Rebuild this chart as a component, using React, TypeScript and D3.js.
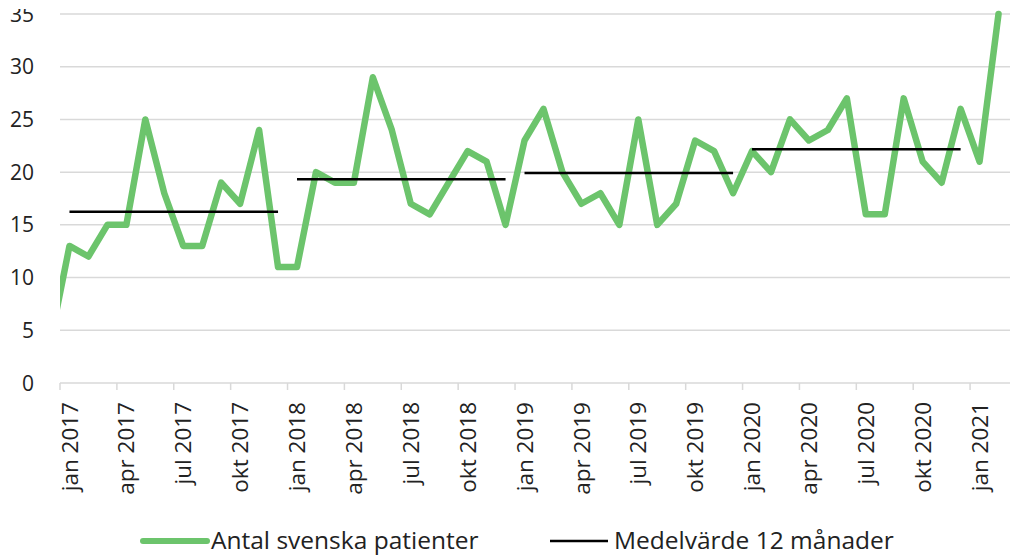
import React, { useEffect, useRef } from 'react'
import * as d3 from 'd3'

const WIDTH = 1010
const HEIGHT = 556

const MARGIN = { left: 60, right: 2, top: 14, bottom: 173 }

const GREEN = '#6cc46c'
const GRID = '#d9d9d9'
const FONT = '"Open Sans", Lato, sans-serif'

const MONTHS = ['jan', 'feb', 'mar', 'apr', 'maj', 'jun', 'jul', 'aug', 'sep', 'okt', 'nov', 'dec']
const YEARS = [2017, 2018, 2019, 2020, 2021]

// month before the axis starts, only the clipped tail of the line shows
const PREV_VALUE = 4

const patients2017 = [13, 12, 15, 15, 25, 18, 13, 13, 19, 17, 24, 11]
const patients2018 = [11, 20, 19, 19, 29, 24, 17, 16, 19, 22, 21, 15]
const patients2019 = [23, 26, 20, 17, 18, 15, 25, 15, 17, 23, 22, 18]
const patients2020 = [22, 20, 25, 23, 24, 27, 16, 16, 27, 21, 19, 26]
const patients2021 = [21, 35]

const yearMeans = [16.25, 19.33, 19.92, 22.17]

const Y_TICKS = [0, 5, 10, 15, 20, 25, 30, 35]

const LEGEND = ['Antal svenska patienter', 'Medelvärde 12 månader']

export default function App() {
  const ref = useRef<SVGSVGElement>(null)

  useEffect(() => {
    const values = [...patients2017, ...patients2018, ...patients2019, ...patients2020, ...patients2021]
    const labels = values.map((_, i) => `${MONTHS[i % 12]} ${YEARS[Math.floor(i / 12)]}`)

    const innerW = WIDTH - MARGIN.left - MARGIN.right
    const innerH = HEIGHT - MARGIN.top - MARGIN.bottom

    const x = d3.scaleBand().domain(labels).range([0, innerW])
    const y = d3.scaleLinear().domain([0, 35]).range([innerH, 0])
    const cx = (i: number) => x.step() * (i + 0.5)

    const svg = d3.select(ref.current)
    svg.selectAll('*').remove()

    svg.append('defs').append('clipPath').attr('id', 'plot-clip')
      .append('rect')
      .attr('x', 0).attr('y', -10)
      .attr('width', innerW).attr('height', innerH + 10)

    const g = svg.append('g').attr('transform', `translate(${MARGIN.left},${MARGIN.top})`)

    // gridlines
    g.append('g').selectAll('line')
      .data(Y_TICKS.filter((t) => t > 0))
      .enter().append('line')
      .attr('x1', 0).attr('x2', innerW + 10)
      .attr('y1', (d) => y(d)).attr('y2', (d) => y(d))
      .attr('stroke', GRID).attr('stroke-width', 1.5)

    // y labels
    g.append('g').selectAll('text')
      .data(Y_TICKS)
      .enter().append('text')
      .attr('x', -26).attr('y', (d) => y(d))
      .attr('dy', '0.36em')
      .attr('text-anchor', 'end')
      .attr('font-family', FONT).attr('font-size', 21).attr('fill', '#222')
      .text((d) => d)

    // x axis
    g.append('line')
      .attr('x1', 0).attr('x2', innerW + 10)
      .attr('y1', innerH).attr('y2', innerH)
      .attr('stroke', GRID).attr('stroke-width', 1.5)

    const tickIdx = labels.map((_, i) => i).filter((i) => i % 3 === 0)

    g.append('g').selectAll('line')
      .data(tickIdx)
      .enter().append('line')
      .attr('x1', (i) => x(labels[i])!).attr('x2', (i) => x(labels[i])!)
      .attr('y1', innerH).attr('y2', innerH + 7)
      .attr('stroke', GRID).attr('stroke-width', 1.5)

    g.append('g').selectAll('text')
      .data(tickIdx)
      .enter().append('text')
      .attr('transform', (i) => `translate(${cx(i)},${innerH + 19}) rotate(-90)`)
      .attr('dy', '0.36em')
      .attr('text-anchor', 'end')
      .attr('font-family', FONT).attr('font-size', 22.5).attr('fill', '#222')
      .text((i) => labels[i])

    // patient line
    const line = d3.line<number>()
      .x((d, i) => cx(i - 1))
      .y((d) => y(d))

    g.append('path')
      .datum([PREV_VALUE, ...values])
      .attr('d', line)
      .attr('clip-path', 'url(#plot-clip)')
      .attr('fill', 'none')
      .attr('stroke', GREEN)
      .attr('stroke-width', 6.5)
      .attr('stroke-linejoin', 'round')
      .attr('stroke-linecap', 'round')

    // yearly means
    g.append('g').selectAll('line')
      .data(yearMeans)
      .enter().append('line')
      .attr('x1', (d, k) => cx(k * 12)).attr('x2', (d, k) => cx(k * 12 + 11))
      .attr('y1', (d) => y(d)).attr('y2', (d) => y(d))
      .attr('stroke', '#000').attr('stroke-width', 2.5)

    // the source picture is cut off at the top
    svg.append('rect')
      .attr('x', 0).attr('y', 0).attr('width', WIDTH).attr('height', 9)
      .attr('fill', '#fff')

    // legend
    const legend = svg.append('g').attr('transform', `translate(0, 541)`)
    legend.append('line')
      .attr('x1', 143).attr('x2', 207).attr('y1', 0).attr('y2', 0)
      .attr('stroke', GREEN).attr('stroke-width', 6).attr('stroke-linecap', 'round')
    legend.append('text')
      .attr('x', 211).attr('y', 8)
      .attr('font-family', FONT).attr('font-size', 24.5).attr('fill', '#222')
      .text(LEGEND[0])
    legend.append('line')
      .attr('x1', 550).attr('x2', 608).attr('y1', 0).attr('y2', 0)
      .attr('stroke', '#000').attr('stroke-width', 2.5)
    legend.append('text')
      .attr('x', 614).attr('y', 8)
      .attr('font-family', FONT).attr('font-size', 24.5).attr('fill', '#222')
      .text(LEGEND[1])
  }, [])

  return (
    <svg
      ref={ref}
      width={WIDTH}
      height={HEIGHT}
      style={{ position: 'absolute', left: 0, top: 0, background: '#fff' }}
    ></svg>
  )
}
